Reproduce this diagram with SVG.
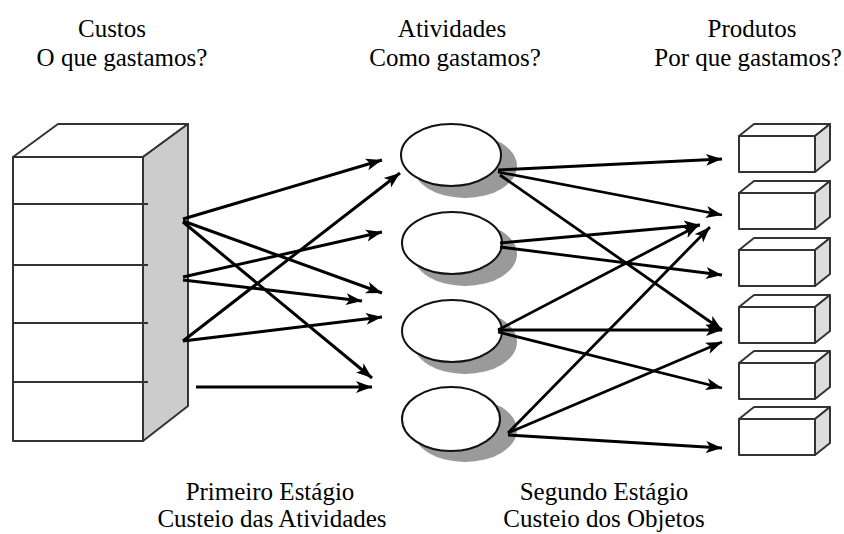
<svg xmlns="http://www.w3.org/2000/svg" width="844" height="534" viewBox="0 0 844 534">
<defs>
<style>
text{font-family:'Liberation Serif','Times New Roman',serif;font-size:25px;fill:#000;text-anchor:middle}
.c{stroke:#000;stroke-width:3;fill:none;marker-end:url(#ah)}
.cr{stroke:#000;stroke-width:2.8;fill:none;marker-end:url(#ah)}
.edge{stroke:#333;stroke-width:2;stroke-linejoin:round}
.ell{fill:#fff;stroke:#111;stroke-width:2}
.sh{fill:#9a9a9a}
</style>
<marker id="ah" markerUnits="userSpaceOnUse" markerWidth="18" markerHeight="14" refX="16" refY="6" orient="auto" viewBox="0 0 18 12">
<path d="M0,0 L16,6 L0,12 L4,6 z" fill="#000"/>
</marker>
</defs>
<rect width="844" height="534" fill="#fff"/>

<g id="labels">
<text x="112" y="37">Custos</text>
<text x="122" y="66">O que gastamos?</text>
<text x="452" y="37">Atividades</text>
<text x="455" y="66">Como gastamos?</text>
<text x="752" y="37">Produtos</text>
<text x="748" y="66">Por que gastamos?</text>
<text x="270" y="500">Primeiro Estágio</text>
<text x="272" y="527">Custeio das Atividades</text>
<text x="604" y="500">Segundo Estágio</text>
<text x="604" y="527">Custeio dos Objetos</text>
</g>

<g id="custos">
<polygon class="edge" points="13,157 58,124 188,124 143,157" fill="#fff"/>
<polygon class="edge" points="143,157 188,124 188,406 143,441" fill="#ccc"/>
<rect class="edge" x="13" y="157" width="130" height="284" fill="#fff"/>
<line class="edge" x1="13" y1="204" x2="148" y2="204"/>
<line class="edge" x1="13" y1="265" x2="148" y2="265"/>
<line class="edge" x1="13" y1="323" x2="148" y2="323"/>
<line class="edge" x1="13" y1="382" x2="148" y2="382"/>
</g>

<g id="atividade1">
<ellipse class="sh" cx="465" cy="166" rx="52" ry="32"/>
<ellipse class="ell" cx="451" cy="155" rx="50" ry="31"/>
</g>
<g id="atividade2">
<ellipse class="sh" cx="465" cy="254" rx="52" ry="32"/>
<ellipse class="ell" cx="452" cy="243" rx="50" ry="31"/>
</g>
<g id="atividade3">
<ellipse class="sh" cx="465" cy="342" rx="52" ry="32"/>
<ellipse class="ell" cx="452" cy="331" rx="50" ry="31"/>
</g>
<g id="atividade4">
<ellipse class="sh" cx="465" cy="430" rx="52" ry="32"/>
<ellipse class="ell" cx="451" cy="419" rx="49" ry="32"/>
</g>

<g id="produto1" transform="translate(0,136)">
<polygon class="edge" points="739,0 754,-12 830,-12 815,0" fill="#fff"/>
<polygon class="edge" points="815,0 830,-12 830,24 815,36" fill="#ddd"/>
<rect class="edge" x="739" y="0" width="76" height="36" fill="#fff"/>
</g>
<g id="produto2" transform="translate(0,193)">
<polygon class="edge" points="739,0 754,-12 830,-12 815,0" fill="#fff"/>
<polygon class="edge" points="815,0 830,-12 830,24 815,36" fill="#ddd"/>
<rect class="edge" x="739" y="0" width="76" height="36" fill="#fff"/>
</g>
<g id="produto3" transform="translate(0,250)">
<polygon class="edge" points="739,0 754,-12 830,-12 815,0" fill="#fff"/>
<polygon class="edge" points="815,0 830,-12 830,24 815,36" fill="#ddd"/>
<rect class="edge" x="739" y="0" width="76" height="36" fill="#fff"/>
</g>
<g id="produto4" transform="translate(0,307)">
<polygon class="edge" points="739,0 754,-12 830,-12 815,0" fill="#fff"/>
<polygon class="edge" points="815,0 830,-12 830,24 815,36" fill="#ddd"/>
<rect class="edge" x="739" y="0" width="76" height="36" fill="#fff"/>
</g>
<g id="produto5" transform="translate(0,363)">
<polygon class="edge" points="739,0 754,-12 830,-12 815,0" fill="#fff"/>
<polygon class="edge" points="815,0 830,-12 830,24 815,36" fill="#ddd"/>
<rect class="edge" x="739" y="0" width="76" height="36" fill="#fff"/>
</g>
<g id="produto6" transform="translate(0,419)">
<polygon class="edge" points="739,0 754,-12 830,-12 815,0" fill="#fff"/>
<polygon class="edge" points="815,0 830,-12 830,24 815,36" fill="#ddd"/>
<rect class="edge" x="739" y="0" width="76" height="36" fill="#fff"/>
</g>

<g id="connectors">
<line class="c" x1="183" y1="219" x2="382" y2="160"/>
<line class="c" x1="183" y1="221" x2="382" y2="293"/>
<line class="c" x1="183" y1="222" x2="372" y2="378"/>
<line class="c" x1="183" y1="277" x2="382" y2="232"/>
<line class="c" x1="183" y1="280" x2="362" y2="301"/>
<line class="c" x1="183" y1="341" x2="400" y2="173"/>
<line class="c" x1="183" y1="341" x2="382" y2="317"/>
<line class="c" x1="196" y1="387" x2="372" y2="387"/>
<line class="cr" x1="498" y1="170" x2="722" y2="159"/>
<line class="cr" x1="498" y1="172" x2="722" y2="215"/>
<line class="cr" x1="500" y1="175" x2="722" y2="330"/>
<line class="cr" x1="500" y1="243" x2="700" y2="225"/>
<line class="cr" x1="500" y1="247" x2="722" y2="275"/>
<line class="cr" x1="498" y1="330" x2="699" y2="225"/>
<line class="cr" x1="498" y1="330" x2="722" y2="330"/>
<line class="cr" x1="498" y1="332" x2="722" y2="388"/>
<line class="cr" x1="508" y1="433" x2="710" y2="227"/>
<line class="cr" x1="508" y1="433" x2="722" y2="342"/>
<line class="cr" x1="508" y1="435" x2="722" y2="448"/>
</g>
</svg>
